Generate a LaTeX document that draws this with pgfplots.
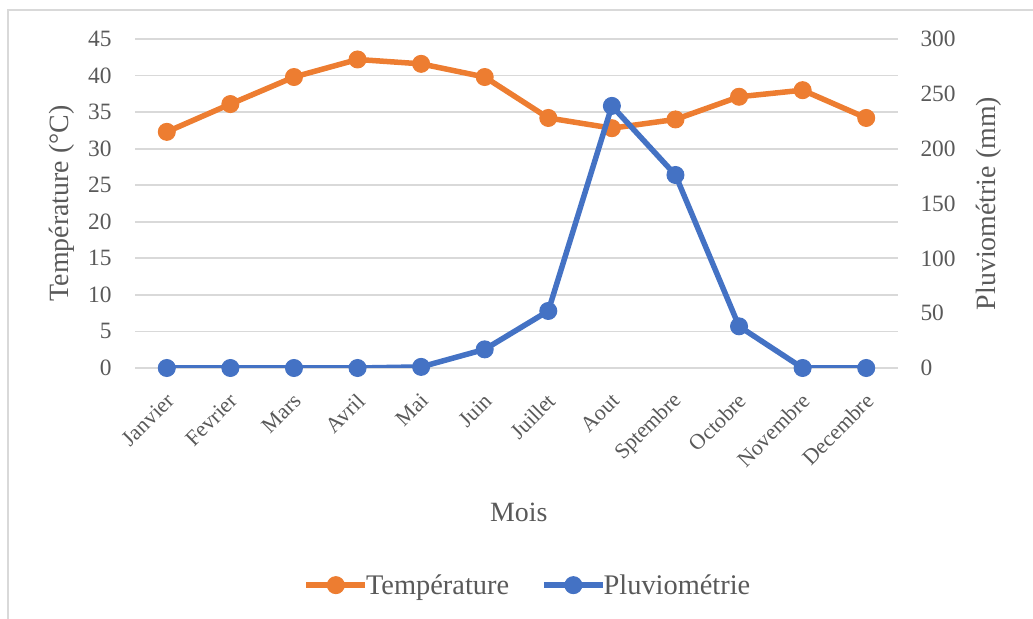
\documentclass[border=0pt]{standalone}
\usepackage{fontspec}
\setmainfont{Liberation Serif}
\usepackage{pgfplots}
\pgfplotsset{compat=1.18}
\definecolor{torange}{HTML}{ED7D31}
\definecolor{pblue}{HTML}{4472C4}
\definecolor{txt}{HTML}{595959}
\definecolor{grd}{HTML}{D9D9D9}
\begin{document}
\begin{tikzpicture}
\useasboundingbox (0,0) rectangle (1033bp,619bp);
\draw[grd, line width=1.5bp] (8bp,0) -- (8bp,609bp) -- (1033bp,609bp);
\pgfplotsset{
  common/.style={
    at={(135bp,251bp)}, anchor=south west,
    scale only axis, width=763bp, height=329bp,
    xmin=-0.5, xmax=11.5, ymin=0,
    axis line style={draw=none},
    tick style={draw=none},
    /pgf/number format/assume math mode=true,
    ticklabel style={font=\fontsize{23.5}{27}\selectfont, text=txt},
    legend image code/.code={\draw[mark repeat=2,mark phase=2,##1] plot coordinates {(0bp,0bp) (29.5bp,0bp) (59bp,0bp)};},
  }
}
\begin{axis}[common, ymax=45, ytick={0,5,...,45},
  yticklabel style={xshift=-20bp},
  xtick={0,...,11},
  xticklabels={Janvier,Fevrier,Mars,Avril,Mai,Juin,Juillet,Aout,Sptembre,Octobre,Novembre,Decembre},
  xticklabel style={xshift=6bp, yshift=-27bp, rotate=45, anchor=east, font=\fontsize{22}{26}\selectfont, text=txt},
  ymajorgrids, major grid style={grd, line width=1.8bp},
  every axis y label/.style={at={(axis description cs:-0.096,0.5)}, rotate=90, anchor=center, font=\fontsize{28}{32}\selectfont, text=txt},
  every axis x label/.style={at={(axis description cs:0.503,-0.4377)}, anchor=center, font=\fontsize{28}{32}\selectfont, text=txt},
  ylabel={Température (°C)}, xlabel={Mois},
]
\addplot[torange, line width=5.5bp, mark=*, mark size=8.5bp, mark options={fill=torange, line width=1bp}]
coordinates {(0,32.3) (1,36.1) (2,39.8) (3,42.2) (4,41.6) (5,39.8) (6,34.2) (7,32.8) (8,34.0) (9,37.1) (10,38.0) (11,34.2)};
\end{axis}
\begin{axis}[common, ymax=300, ytick={0,50,...,300},
  axis y line*=right, hide x axis,
  yticklabel style={xshift=19bp},
  every axis y label/.style={at={(axis description cs:1.119,0.5)}, rotate=90, anchor=center, font=\fontsize{28}{32}\selectfont, text=txt},
  ylabel={Pluviométrie (mm)},
  legend style={at={(axis description cs:0.515,-0.66)}, anchor=center, draw=none, legend columns=2, font=\fontsize{28.5}{32}\selectfont, text=txt, /tikz/every even column/.append style={column sep=30bp}, inner sep=0pt, /tikz/every odd column/.append style={column sep=-4bp}},
]
\addlegendimage{torange, line width=5.5bp, mark=*, mark size=8.5bp, mark options={fill=torange, line width=1bp}}
\addlegendentry{Température}
\addplot[pblue, line width=5.5bp, mark=*, mark size=8.5bp, mark options={fill=pblue, line width=1bp}]
coordinates {(0,0) (1,0) (2,0) (3,0) (4,1) (5,17) (6,52) (7,239) (8,176) (9,38) (10,0) (11,0)};
\addlegendentry{Pluviométrie}
\end{axis}
\end{tikzpicture}
\end{document}
